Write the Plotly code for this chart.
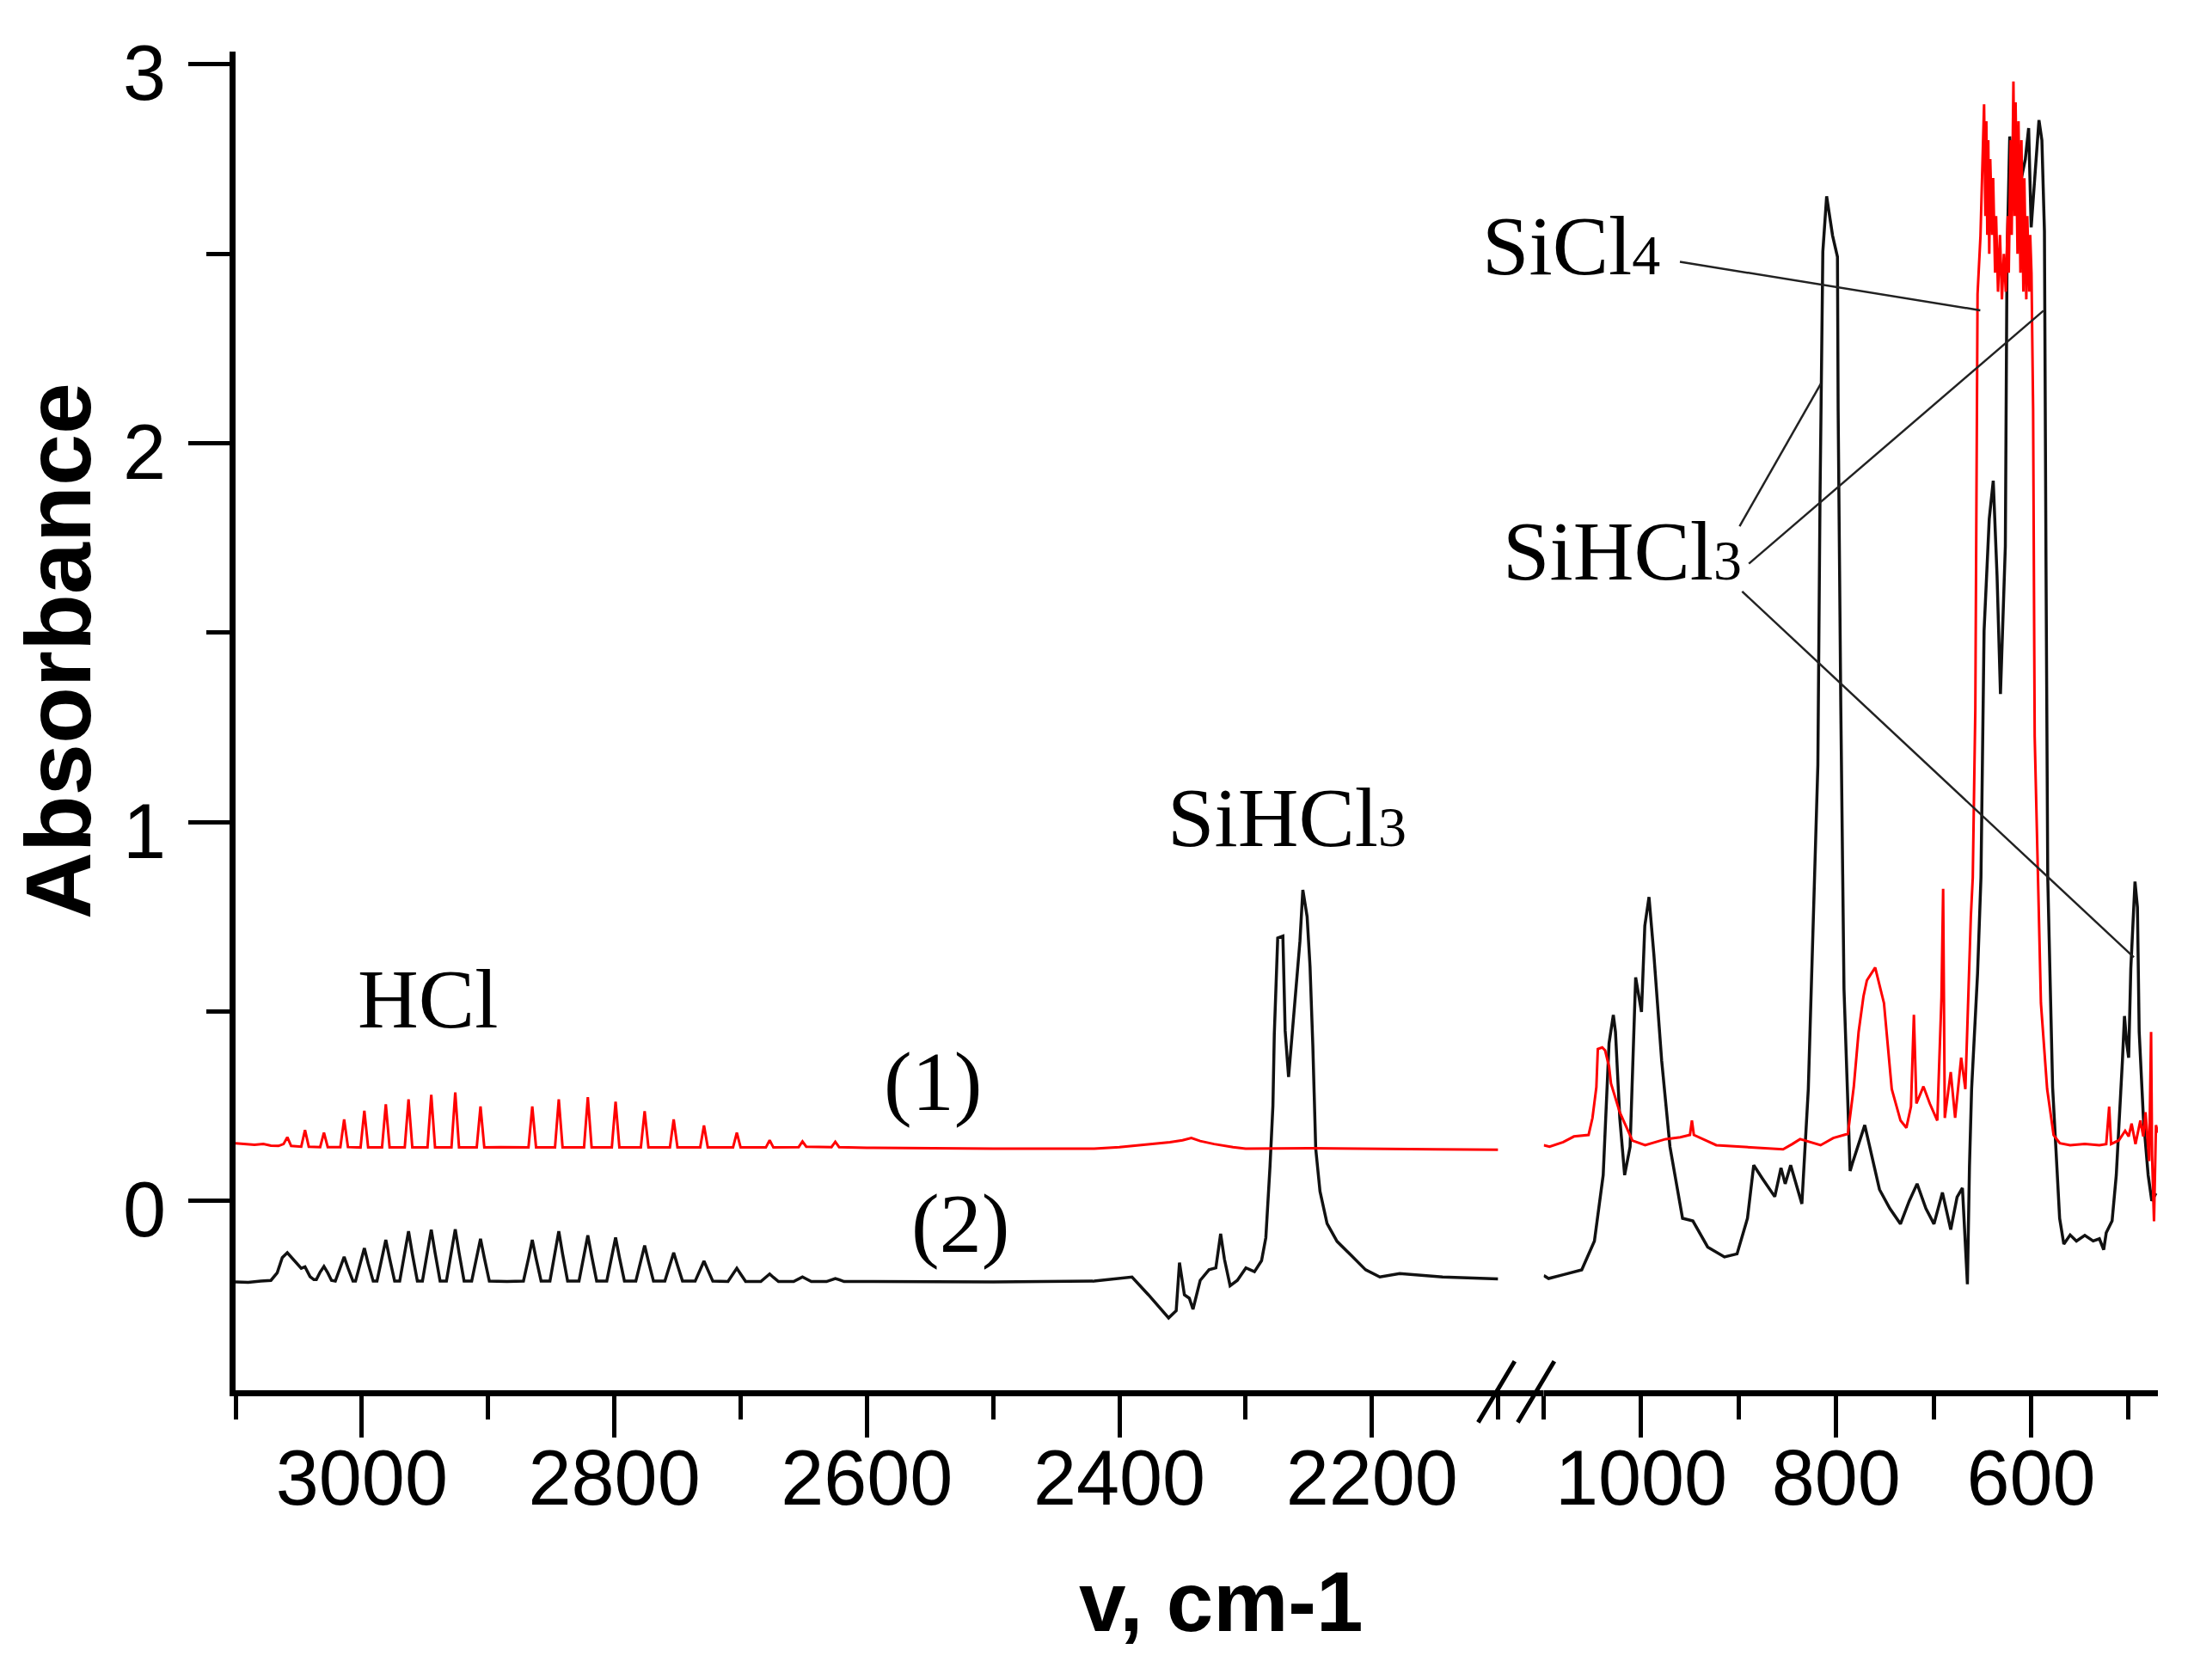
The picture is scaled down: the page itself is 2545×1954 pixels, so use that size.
import plotly.graph_objects as go

# ---- spectrum (1), red, left part 3100-2100 cm-1
red_left_x = [3100, 3092, 3085, 3078, 3072, 3066, 3062, 3059, 3056, 3048, 3045, 3042, 3033, 3030, 3027,
              3017, 3014, 3011, 3001, 2998, 2995, 2984, 2981, 2978, 2966, 2963, 2960, 2948, 2945, 2942,
              2929, 2926, 2923, 2909, 2906, 2903, 2890, 2868, 2865, 2862, 2847, 2844, 2841, 2824, 2821,
              2818, 2802, 2799, 2796, 2779, 2776, 2773, 2756, 2753, 2750, 2732, 2729, 2726, 2706, 2703,
              2700, 2680, 2677, 2674, 2654, 2651, 2648, 2628, 2625, 2622, 2600, 2500, 2420, 2400, 2380,
              2360, 2350, 2343, 2336, 2325, 2310, 2300, 2250, 2200, 2150, 2100]
red_left_y = [0.152, 0.150, 0.148, 0.150, 0.146, 0.145, 0.150, 0.168, 0.145, 0.143, 0.187, 0.143, 0.142, 0.180, 0.142,
              0.142, 0.215, 0.142, 0.141, 0.238, 0.141, 0.141, 0.255, 0.141, 0.141, 0.268, 0.141, 0.141, 0.280, 0.141,
              0.141, 0.286, 0.141, 0.141, 0.249, 0.141, 0.142, 0.141, 0.249, 0.141, 0.141, 0.268, 0.141, 0.141, 0.274,
              0.141, 0.141, 0.262, 0.141, 0.141, 0.237, 0.141, 0.141, 0.215, 0.141, 0.141, 0.199, 0.141, 0.141, 0.180,
              0.141, 0.141, 0.160, 0.141, 0.142, 0.157, 0.143, 0.142, 0.156, 0.142, 0.140, 0.138, 0.138, 0.142, 0.148,
              0.155, 0.160, 0.166, 0.158, 0.150, 0.142, 0.138, 0.139, 0.137, 0.136, 0.135]

# ---- spectrum (2), black, left part
blk_left_x = [3100, 3090, 3080, 3072, 3067, 3063, 3059, 3055, 3052, 3048, 3045, 3041, 3038,
              3036, 3033, 3030, 3027, 3024,
              3021, 3017, 3014, 3011, 3007,
              3005, 3001, 2998, 2995, 2991,
              2988, 2984, 2981, 2978, 2974,
              2970, 2966, 2963, 2960, 2956,
              2952, 2948, 2945, 2942, 2938,
              2933, 2929, 2926, 2923, 2919,
              2913, 2909, 2906, 2903, 2899,
              2885,
              2872, 2868, 2865, 2862, 2858,
              2851, 2847, 2844, 2841, 2837,
              2828, 2824, 2821, 2818, 2814,
              2806, 2802, 2799, 2796, 2792,
              2783, 2779, 2776, 2773, 2769,
              2760, 2756, 2753, 2750, 2746,
              2736, 2732, 2729, 2726, 2722,
              2710, 2706, 2703, 2700, 2696,
              2684, 2680, 2677, 2674, 2670,
              2658, 2654, 2651, 2648, 2644,
              2632, 2628, 2625, 2622, 2618,
              2600, 2500, 2420, 2404, 2390, 2377, 2361, 2355, 2352.4, 2348.5, 2344.6, 2341.7, 2336, 2329,
              2323.6, 2319.8, 2316.8, 2312.3, 2306.6, 2299.8, 2293, 2287.4, 2284, 2280.7, 2278.4, 2277.3,
              2274.6, 2270.5, 2268.7, 2266, 2262.6, 2257, 2254.7, 2251.3, 2249, 2246.8, 2244.5, 2241.1,
              2235.5, 2227.6, 2216.3, 2205, 2193.7, 2178, 2144, 2100]
blk_left_y = [-0.214, -0.215, -0.212, -0.210, -0.190, -0.150, -0.137, -0.152, -0.162, -0.178, -0.174, -0.200, -0.208,
              -0.208, -0.188, -0.173, -0.190, -0.210,
              -0.212, -0.177, -0.148, -0.177, -0.212,
              -0.212, -0.165, -0.125, -0.165, -0.212,
              -0.212, -0.152, -0.103, -0.152, -0.212,
              -0.212, -0.140, -0.080, -0.140, -0.212,
              -0.212, -0.137, -0.076, -0.137, -0.212,
              -0.212, -0.137, -0.075, -0.137, -0.212,
              -0.212, -0.150, -0.100, -0.150, -0.212,
              -0.213,
              -0.212, -0.152, -0.103, -0.152, -0.212,
              -0.212, -0.140, -0.080, -0.140, -0.212,
              -0.212, -0.145, -0.091, -0.145, -0.212,
              -0.212, -0.149, -0.097, -0.149, -0.212,
              -0.212, -0.160, -0.118, -0.160, -0.212,
              -0.212, -0.170, -0.137, -0.170, -0.212,
              -0.212, -0.182, -0.159, -0.182, -0.212,
              -0.213, -0.193, -0.178, -0.193, -0.213,
              -0.213, -0.202, -0.193, -0.202, -0.213,
              -0.213, -0.206, -0.201, -0.206, -0.213,
              -0.213, -0.208, -0.205, -0.208, -0.213,
              -0.213, -0.214, -0.212, -0.206, -0.201, -0.248, -0.309, -0.290, -0.163, -0.248, -0.257, -0.286, -0.210, -0.182,
              -0.177, -0.087, -0.154, -0.224, -0.210, -0.177, -0.187, -0.158, -0.097, 0.091, 0.251, 0.440,
              0.694, 0.699, 0.449, 0.327, 0.468, 0.685, 0.821, 0.750, 0.619, 0.412, 0.138, 0.025,
              -0.060, -0.107, -0.144, -0.182, -0.201, -0.192, -0.201, -0.206]

# ---- spectrum (1), red, right part 1100-470 cm-1
red_right_x = [1100, 1094, 1080, 1069, 1054, 1050, 1046, 1044.5, 1040, 1037, 1033, 1031, 1022, 1009, 996,
               975, 960, 950, 948, 946, 923, 896, 870, 854.5, 845, 837, 816, 803, 788, 782,
               777, 772, 768.5, 760, 751, 743, 734, 728, 723.3, 720.3, 717.7, 714, 710.5, 704, 696.3,
               692, 690.3, 688.6, 682.5, 678, 671.8, 667.5, 661.9, 659.9, 657.3, 655, 652, 648.3, 647, 646,
               645, 644, 643, 642, 640, 639, 637, 636, 634, 632, 630, 628, 626, 624, 623,
               621, 620, 618.2, 617, 616, 614, 613, 611, 610, 608, 607, 605, 604, 602, 601,
               599.7, 598, 596.4, 593, 590, 583.6, 577, 570.6, 560, 545, 530, 523, 520, 518, 510,
               503.6, 500, 497, 493, 488, 485, 482.7, 479, 477, 476, 474, 472, 470]
red_right_y = [0.147, 0.143, 0.155, 0.170, 0.174, 0.219, 0.300, 0.401, 0.405, 0.397, 0.355, 0.310, 0.234, 0.159, 0.147,
               0.163, 0.168, 0.174, 0.212, 0.174, 0.147, 0.143, 0.140, 0.136, 0.150, 0.163, 0.147, 0.166, 0.177, 0.300,
               0.446, 0.540, 0.582, 0.616, 0.522, 0.295, 0.212, 0.193, 0.249, 0.491, 0.257, 0.280, 0.302, 0.257, 0.212,
               0.537, 0.824, 0.219, 0.340, 0.219, 0.378, 0.295, 0.749, 0.854, 1.296, 2.394, 2.547, 2.895, 2.600, 2.850,
               2.550, 2.800, 2.500, 2.750, 2.550, 2.700, 2.450, 2.600, 2.400, 2.550, 2.380, 2.500, 2.400, 2.600, 2.450,
               2.800, 2.550, 2.955, 2.600, 2.900, 2.500, 2.850, 2.450, 2.800, 2.400, 2.700, 2.380, 2.600, 2.400, 2.550,
               2.450, 2.089, 1.227, 0.854, 0.522, 0.295, 0.174, 0.152, 0.147, 0.150, 0.147, 0.150, 0.249, 0.150, 0.160,
               0.185, 0.170, 0.204, 0.150, 0.212, 0.170, 0.234, 0.105, 0.446, 0.120, -0.054, 0.200, 0.180]

# ---- spectrum (2), black, right part
blk_right_x = [1100, 1095, 1080, 1061, 1048, 1039, 1033, 1028.6, 1026.4, 1022, 1017, 1011.4, 1005.7, 999.7, 996.3,
               992, 987, 979, 970.5, 957.6, 947, 931.8, 914.6, 901.7, 891, 884.6, 876, 863, 856.6, 852.3,
               846.7, 835.2, 828.6, 824.4, 818.8, 816.6, 813.7, 809.8, 803.7, 798.7, 798, 795.3, 793.6, 792, 785.7,
               783.5, 770.7, 755.6, 745, 734.1, 725, 717, 708, 699.7, 691, 682.5, 676, 670.5, 665.4, 663.3,
               661.1, 655, 651.5, 648.3, 643, 638.9, 635, 631.5, 626.5, 624.8, 622, 618, 614, 610, 606,
               602.6, 600, 596, 592, 589, 586.4, 584.8, 583, 578, 570.8, 566.5, 560, 553.6, 545, 536.4,
               530, 525.6, 523, 517, 512.7, 506.4, 504.3, 502, 500, 497.8, 493.5, 491, 489.2, 484.9, 480,
               476.3, 472]
blk_right_y = [-0.197, -0.205, -0.195, -0.182, -0.106, 0.068, 0.416, 0.491, 0.446, 0.219, 0.068, 0.143, 0.590, 0.499, 0.726,
               0.802, 0.650, 0.370, 0.143, -0.046, -0.053, -0.122, -0.148, -0.140, -0.046, 0.094, 0.060, 0.011, 0.087, 0.045,
               0.094, -0.008, 0.295, 0.635, 1.150, 1.852, 2.506, 2.652, 2.548, 2.492, 2.089, 1.310, 0.854, 0.560, 0.079,
               0.098, 0.200, 0.030, -0.020, -0.061, 0.000, 0.045, -0.020, -0.061, 0.022, -0.076, 0.010, 0.034, -0.220, 0.090,
               0.295, 0.600, 0.854, 1.505, 1.800, 1.901, 1.650, 1.338, 1.728, 2.478, 2.810, 2.650, 2.620, 2.700, 2.750,
               2.832, 2.570, 2.700, 2.853, 2.800, 2.560, 1.686, 0.854, 0.300, -0.046, -0.114, -0.090, -0.106, -0.091, -0.106,
               -0.100, -0.129, -0.084, -0.053, 0.068, 0.370, 0.488, 0.416, 0.378, 0.613, 0.843, 0.775, 0.446, 0.219, 0.068,
               0.000, 0.020]

y_ticks = [0, 1, 2, 3]
left_ticks = [3000, 2800, 2600, 2400, 2200]
right_ticks = [1000, 800, 600]

SANS = "Liberation Sans, Arial, sans-serif"
SERIF = "Liberation Serif, Times New Roman, serif"

fig = go.Figure()
fig.add_trace(go.Scatter(x=blk_left_x, y=blk_left_y, mode="lines", xaxis="x", yaxis="y",
                         line=dict(color="#111111", width=3.5), hoverinfo="skip"))
fig.add_trace(go.Scatter(x=red_left_x, y=red_left_y, mode="lines", xaxis="x", yaxis="y",
                         line=dict(color="#ff0000", width=3), hoverinfo="skip"))
fig.add_trace(go.Scatter(x=blk_right_x, y=blk_right_y, mode="lines", xaxis="x2", yaxis="y",
                         line=dict(color="#111111", width=3.5), hoverinfo="skip"))
fig.add_trace(go.Scatter(x=red_right_x, y=red_right_y, mode="lines", xaxis="x2", yaxis="y",
                         line=dict(color="#ff0000", width=3), hoverinfo="skip"))

axis_common = dict(showline=True, linecolor="black", linewidth=7, showgrid=False, zeroline=False,
                   ticks="outside", ticklen=48, tickwidth=5, tickcolor="black",
                   tickfont=dict(family=SANS, size=90, color="black"))

fig.update_layout(
    width=2545, height=1954,
    margin=dict(l=274, r=35, t=60, b=337),
    paper_bgcolor="white", plot_bgcolor="white",
    showlegend=False,
    xaxis=dict(domain=[0, 0.6568], range=[3100, 2100], anchor="y",
               tickvals=left_ticks, ticktext=[str(v) for v in left_ticks], ticklabelstandoff=-30,
               minor=dict(tickvals=[3100, 2900, 2700, 2500, 2300, 2100], ticks="outside",
                          ticklen=27, tickwidth=5, tickcolor="black"),
               **axis_common),
    xaxis2=dict(domain=[0.6805, 1], range=[1100, 470], anchor="y",
                tickvals=right_ticks, ticktext=[str(v) for v in right_ticks], ticklabelstandoff=-30,
                minor=dict(tickvals=[1100, 900, 700, 500], ticks="outside",
                           ticklen=27, tickwidth=5, tickcolor="black"),
                **axis_common),
    yaxis=dict(domain=[0, 1], range=[-0.5, 3.034], anchor="x",
               tickvals=y_ticks, ticktext=[str(v) for v in y_ticks],
               ticklabelstandoff=8, ticklabelshift=10,
               minor=dict(tickvals=[0.5, 1.5, 2.5], ticks="outside",
                          ticklen=27, tickwidth=5, tickcolor="black"),
               **axis_common),
)

# axis line through the break, and the // marks
fig.add_shape(type="line", xref="paper", yref="paper", x0=0.6568, x1=0.6805, y0=-0.00225, y1=-0.00225,
              line=dict(color="black", width=7))
for x0, x1 in [(0.6464, 0.6654), (0.6670, 0.6860)]:
    fig.add_shape(type="line", xref="paper", yref="paper", x0=x0, y0=-0.024, x1=x1, y1=0.0217,
                  line=dict(color="black", width=5))

# leader lines
leaders = [((960.3, 2.479), (652.2, 2.351)),
           ((899.1, 1.781), (815.8, 2.157)),
           ((889.6, 1.682), (587.4, 2.350)),
           ((896.5, 1.609), (494.7, 0.643))]
for (xa, ya), (xb, yb) in leaders:
    fig.add_shape(type="line", xref="x2", yref="y", x0=xa, y0=ya, x1=xb, y1=yb,
                  line=dict(color="#222222", width=2.5))

sub = "<span style='font-size:66px'>{}</span>"
labels = [
    ("x", 2947.5, 0.533, "HCl"),
    ("x", 2548, 0.314, "(1)"),
    ("x", 2526, -0.060, "(2)"),
    ("x", 2267, 1.012, "SiHCl" + sub.format("3")),
    ("x2", 1071.8, 2.521, "SiCl" + sub.format("4")),
    ("x2", 1019, 1.715, "SiHCl" + sub.format("3")),
]
for xr, xv, yv, txt in labels:
    fig.add_annotation(xref=xr, yref="y", x=xv, y=yv, text=txt, showarrow=False,
                       xanchor="center", yanchor="middle",
                       font=dict(family=SERIF, size=98, color="black"))

# axis titles
fig.add_annotation(xref="paper", yref="paper", x=-0.0923, y=0.552, text="<b>Absorbance</b>",
                   textangle=-90, showarrow=False, xanchor="center", yanchor="middle",
                   font=dict(family=SANS, size=108, color="black"))
fig.add_annotation(xref="paper", yref="paper", x=0.5123, y=-0.1579, text="<b>v, cm-1</b>",
                   showarrow=False, xanchor="center", yanchor="middle",
                   font=dict(family=SANS, size=98, color="black"))

fig.write_html("out.html", config={"displayModeBar": False},
               post_script="document.body.style.margin='0';")
